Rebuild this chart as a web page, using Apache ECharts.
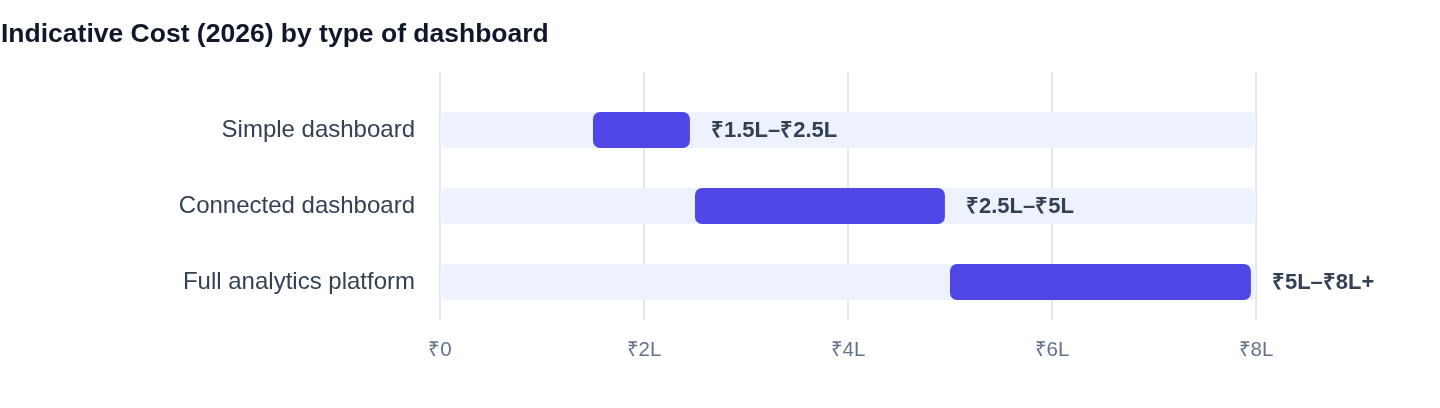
<!DOCTYPE html>
<html>
<head>
<meta charset="utf-8">
<script src="https://cdn.jsdelivr.net/npm/echarts@6/dist/echarts.min.js"></script>
<style>
  html, body { margin: 0; padding: 0; background: #fff; }
  #chart { width: 1440px; height: 408px; }
</style>
</head>
<body>
<div id="chart"></div>
<script>
// data (values in lakh rupees)
const categories = ['Simple dashboard', 'Connected dashboard', 'Full analytics platform']
const rangeStart = [1.5, 2.5, 5]
const rangeEnd = [2.45, 4.95, 7.95]
const rangeLabels = ['₹1.5L–₹2.5L', '₹2.5L–₹5L', '₹5L–₹8L+']
const scaleMax = 8
const tickLabels = ['₹0', '₹2L', '₹4L', '₹6L', '₹8L']

const FONT = '"Liberation Sans", Helvetica, Arial, sans-serif'

const chart = echarts.init(document.getElementById('chart'))

chart.setOption({
    animation: false,
    title: {
        text: 'Indicative Cost (2026) by type of dashboard',
        left: 1,
        top: 21,
        padding: 0,
        textStyle: { fontFamily: FONT, fontSize: 26.5, fontWeight: 'bold', color: '#0f172a' }
    },
    grid: [
        { left: 440, right: 184, top: 92, bottom: 88 },
        // thin strip above the bars so the vertical grid lines reach up like the original
        { left: 440, right: 184, top: 72, height: 20 }
    ],
    xAxis: [
        {
            type: 'value',
            min: 0,
            max: scaleMax,
            interval: 2,
            axisLine: { show: false },
            axisTick: { show: false },
            splitLine: { lineStyle: { color: '#e2e8f0', width: 2 } },
            axisLabel: {
                margin: 20,
                fontFamily: FONT,
                fontSize: 20.5,
                color: '#64748b',
                formatter: v => tickLabels[Math.round(v / 2)]
            }
        },
        {
            type: 'value',
            gridIndex: 1,
            min: 0,
            max: scaleMax,
            interval: 2,
            axisLine: { show: false },
            axisTick: { show: false },
            axisLabel: { show: false },
            splitLine: { lineStyle: { color: '#e2e8f0', width: 2 } }
        }
    ],
    yAxis: [
        {
            type: 'category',
            inverse: true,
            data: categories,
            axisLine: { show: false },
            axisTick: { show: false },
            axisLabel: { margin: 25, fontFamily: FONT, fontSize: 24, color: '#334155' }
        },
        { type: 'category', gridIndex: 1, data: [''], show: false }
    ],
    series: [
        {
            // light track behind every range
            type: 'bar',
            data: categories.map(() => scaleMax),
            barWidth: 36,
            barGap: '-100%',
            silent: true,
            itemStyle: { color: '#eef2ff', borderRadius: 7 },
            z: 1
        },
        {
            type: 'bar',
            stack: 'range',
            data: rangeStart,
            barWidth: 36,
            barGap: '-100%',
            itemStyle: { color: 'transparent' },
            z: 2
        },
        {
            type: 'bar',
            stack: 'range',
            data: rangeEnd.map((e, i) => +(e - rangeStart[i]).toFixed(2)),
            barWidth: 36,
            barGap: '-100%',
            itemStyle: { color: '#4f46e5', borderRadius: 7 },
            label: {
                show: true,
                position: 'right',
                distance: 21,
                fontFamily: FONT,
                fontSize: 22,
                fontWeight: 'bold',
                color: '#334155',
                offset: [0, 1],
                formatter: p => rangeLabels[p.dataIndex]
            },
            z: 3
        }
    ]
})
</script>
</body>
</html>
